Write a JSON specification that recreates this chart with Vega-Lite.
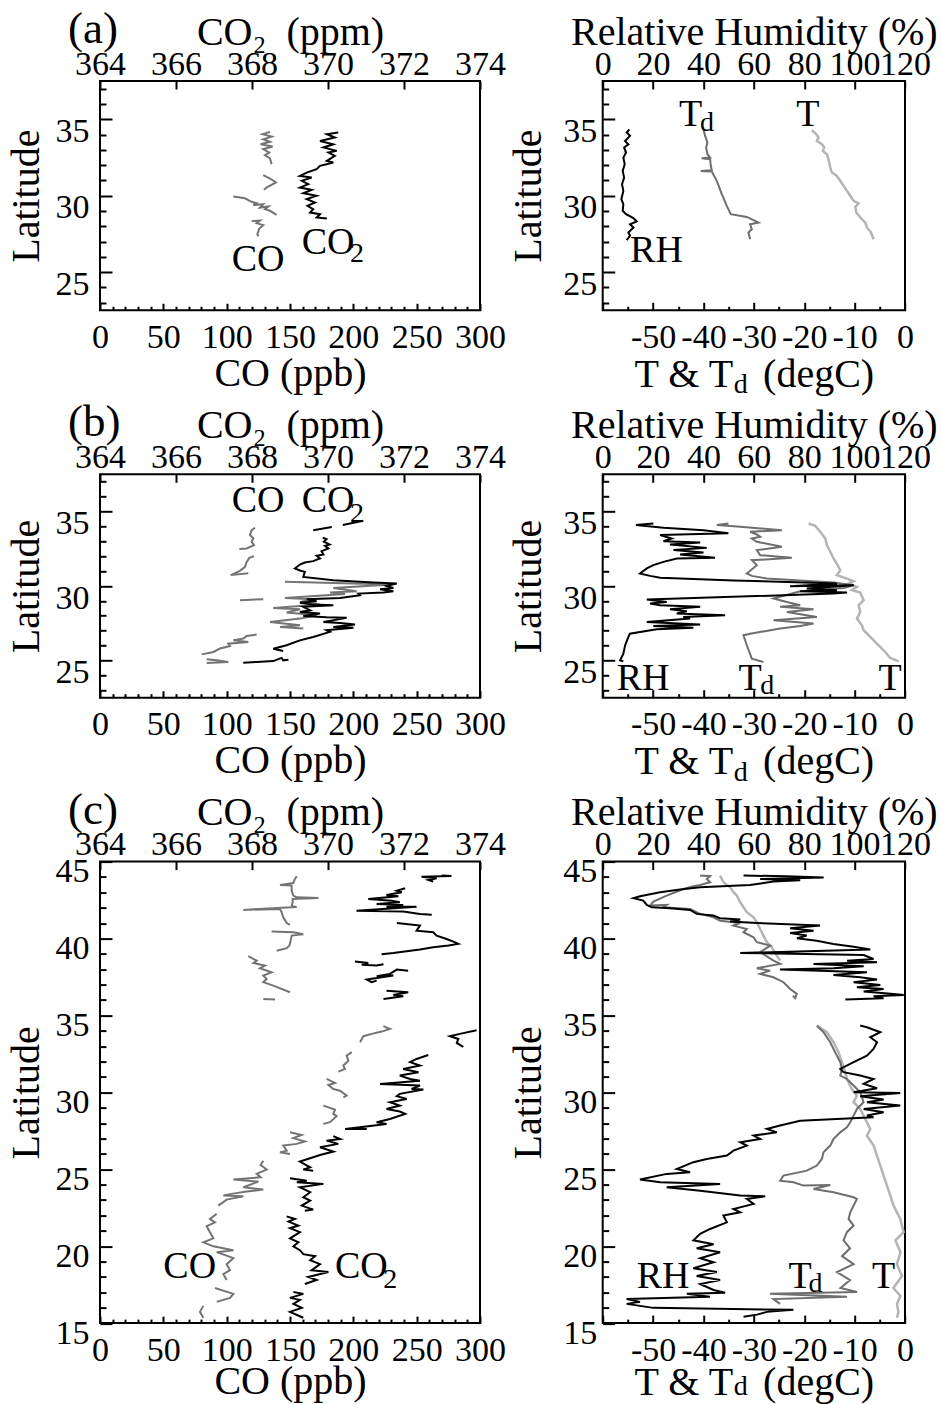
{
"$schema": "https://vega.github.io/schema/vega-lite/v6.json",
"padding": {"left": 5, "top": 6, "right": 0, "bottom": 0},
"background": "white",
"config": {
  "font": "Liberation Serif",
  "view": {"stroke": "black", "strokeWidth": 2},
  "axis": {"domain": false, "grid": false, "labelFont": "Liberation Serif", "labelFontSize": 34, "labelColor": "black", "titleFont": "Liberation Serif", "titleFontSize": 40, "titleFontWeight": "normal", "titleColor": "black", "tickColor": "black", "tickWidth": 2, "labelFlush": false, "labelOverlap": false, "labelBound": false},
  "title": {"font": "Liberation Serif", "fontSize": 45, "fontWeight": "normal", "color": "black"},
  "text": {"font": "Liberation Serif", "color": "black"}
},
"datasets": {
"a": [
{"s":"CO","g":1,"v":134.2,"lat":34.17},{"s":"CO","g":1,"v":128.4,"lat":34.02},{"s":"CO","g":1,"v":135.5,"lat":33.86},{"s":"CO","g":1,"v":128.9,"lat":33.69},{"s":"CO","g":1,"v":134.2,"lat":33.52},{"s":"CO","g":1,"v":126.8,"lat":33.36},{"s":"CO","g":1,"v":136.3,"lat":33.21},{"s":"CO","g":1,"v":128.9,"lat":33.04},{"s":"CO","g":1,"v":133.6,"lat":32.82},{"s":"CO","g":1,"v":130.2,"lat":32.64},{"s":"CO","g":1,"v":134.2,"lat":32.43},{"s":"CO","g":1,"v":135.5,"lat":32.06},
{"s":"CO","g":2,"v":128.9,"lat":31.34},{"s":"CO","g":2,"v":134.2,"lat":31.12},{"s":"CO","g":2,"v":138.9,"lat":30.86},{"s":"CO","g":2,"v":131.5,"lat":30.53},{"s":"CO","g":2,"v":129.4,"lat":30.38},
{"s":"CO","g":3,"v":105.2,"lat":29.94},{"s":"CO","g":3,"v":114.4,"lat":29.83},{"s":"CO","g":3,"v":119.7,"lat":29.6},{"s":"CO","g":3,"v":123.6,"lat":29.51},{"s":"CO","g":3,"v":121,"lat":29.38},{"s":"CO","g":3,"v":128.9,"lat":29.44},{"s":"CO","g":3,"v":126.3,"lat":29.22},{"s":"CO","g":3,"v":132.9,"lat":29.29},{"s":"CO","g":3,"v":130.2,"lat":29.12},{"s":"CO","g":3,"v":134.2,"lat":29.01},{"s":"CO","g":3,"v":139.4,"lat":28.74},
{"s":"CO","g":4,"v":119.7,"lat":28.33},{"s":"CO","g":4,"v":126.3,"lat":28.37},{"s":"CO","g":4,"v":123.6,"lat":28.2},{"s":"CO","g":4,"v":128.9,"lat":28.07},{"s":"CO","g":4,"v":125.8,"lat":27.85},{"s":"CO","g":4,"v":124.2,"lat":27.48},{"s":"CO","g":4,"v":125,"lat":27.33},
{"s":"CO2","g":5,"v":370.27,"lat":34.13},{"s":"CO2","g":5,"v":369.97,"lat":34.02},{"s":"CO2","g":5,"v":370.18,"lat":33.8},{"s":"CO2","g":5,"v":369.79,"lat":33.58},{"s":"CO2","g":5,"v":370.14,"lat":33.36},{"s":"CO2","g":5,"v":369.88,"lat":33.15},{"s":"CO2","g":5,"v":370.23,"lat":32.93},{"s":"CO2","g":5,"v":370.01,"lat":32.82},{"s":"CO2","g":5,"v":370.18,"lat":32.6},{"s":"CO2","g":5,"v":369.97,"lat":32.27},{"s":"CO2","g":5,"v":370.14,"lat":32.17},{"s":"CO2","g":5,"v":369.79,"lat":31.95},{"s":"CO2","g":5,"v":369.7,"lat":31.73},{"s":"CO2","g":5,"v":369.44,"lat":31.51},{"s":"CO2","g":5,"v":369.26,"lat":31.29},{"s":"CO2","g":5,"v":369.57,"lat":31.18},{"s":"CO2","g":5,"v":369.31,"lat":30.97},{"s":"CO2","g":5,"v":369.48,"lat":30.75},{"s":"CO2","g":5,"v":369.26,"lat":30.53},{"s":"CO2","g":5,"v":369.57,"lat":30.38},{"s":"CO2","g":5,"v":369.35,"lat":30.16},{"s":"CO2","g":5,"v":369.7,"lat":29.99},{"s":"CO2","g":5,"v":369.44,"lat":29.77},{"s":"CO2","g":5,"v":369.66,"lat":29.55},{"s":"CO2","g":5,"v":369.46,"lat":29.33},{"s":"CO2","g":5,"v":369.61,"lat":29.11},{"s":"CO2","g":5,"v":369.53,"lat":28.9},{"s":"CO2","g":5,"v":369.79,"lat":28.79},{"s":"CO2","g":5,"v":369.7,"lat":28.57},{"s":"CO2","g":5,"v":369.97,"lat":28.5}
],
"ar": [
{"s":"RH","g":1,"v":10.6,"lat":34.34},{"s":"RH","g":1,"v":9.5,"lat":34.13},{"s":"RH","g":1,"v":10.85,"lat":33.91},{"s":"RH","g":1,"v":8.86,"lat":33.58},{"s":"RH","g":1,"v":10.2,"lat":33.36},{"s":"RH","g":1,"v":8.5,"lat":33.15},{"s":"RH","g":1,"v":9.26,"lat":32.82},{"s":"RH","g":1,"v":8.2,"lat":32.49},{"s":"RH","g":1,"v":8.73,"lat":32.06},{"s":"RH","g":1,"v":7.94,"lat":31.62},{"s":"RH","g":1,"v":8.5,"lat":31.18},{"s":"RH","g":1,"v":7.67,"lat":30.75},{"s":"RH","g":1,"v":8.2,"lat":30.31},{"s":"RH","g":1,"v":7.4,"lat":29.77},{"s":"RH","g":1,"v":8.2,"lat":29.44},{"s":"RH","g":1,"v":7.94,"lat":29.01},{"s":"RH","g":1,"v":9.26,"lat":28.79},{"s":"RH","g":1,"v":12.2,"lat":28.53},{"s":"RH","g":1,"v":13.5,"lat":28.31},{"s":"RH","g":1,"v":10.85,"lat":28.13},{"s":"RH","g":1,"v":12.2,"lat":27.92},{"s":"RH","g":1,"v":10.2,"lat":27.59},{"s":"RH","g":1,"v":10.85,"lat":27.37},{"s":"RH","g":1,"v":9.5,"lat":27.09},
{"s":"Td","g":2,"v":-40.0,"lat":34.34},{"s":"Td","g":2,"v":-39.67,"lat":33.91},{"s":"Td","g":2,"v":-39.21,"lat":33.47},{"s":"Td","g":2,"v":-39.48,"lat":33.15},{"s":"Td","g":2,"v":-39.21,"lat":32.71},{"s":"Td","g":2,"v":-38.68,"lat":32.49},{"s":"Td","g":2,"v":-40.34,"lat":32.45},{"s":"Td","g":2,"v":-38.68,"lat":32.38},{"s":"Td","g":2,"v":-38.55,"lat":31.95},{"s":"Td","g":2,"v":-38.35,"lat":31.66},{"s":"Td","g":2,"v":-40.54,"lat":31.62},{"s":"Td","g":2,"v":-38.35,"lat":31.58},{"s":"Td","g":2,"v":-37.36,"lat":30.97},{"s":"Td","g":2,"v":-36.36,"lat":30.1},{"s":"Td","g":2,"v":-35.37,"lat":29.33},{"s":"Td","g":2,"v":-34.58,"lat":28.79},{"s":"Td","g":2,"v":-31.4,"lat":28.61},{"s":"Td","g":2,"v":-30.07,"lat":28.4},{"s":"Td","g":2,"v":-29.08,"lat":28.24},{"s":"Td","g":2,"v":-30.74,"lat":28.13},{"s":"Td","g":2,"v":-30.4,"lat":27.81},{"s":"Td","g":2,"v":-31.07,"lat":27.59},{"s":"Td","g":2,"v":-30.74,"lat":27.15},
{"s":"T","g":3,"v":-18.49,"lat":34.28},{"s":"T","g":3,"v":-17.62,"lat":34.02},{"s":"T","g":3,"v":-17.16,"lat":33.8},{"s":"T","g":3,"v":-17.49,"lat":33.58},{"s":"T","g":3,"v":-16.5,"lat":33.36},{"s":"T","g":3,"v":-16.03,"lat":33.15},{"s":"T","g":3,"v":-16.3,"lat":32.93},{"s":"T","g":3,"v":-15.5,"lat":32.71},{"s":"T","g":3,"v":-15.17,"lat":32.38},{"s":"T","g":3,"v":-14.83,"lat":31.84},{"s":"T","g":3,"v":-14.51,"lat":31.51},{"s":"T","g":3,"v":-13.52,"lat":31.29},{"s":"T","g":3,"v":-12.85,"lat":30.97},{"s":"T","g":3,"v":-12.19,"lat":30.64},{"s":"T","g":3,"v":-11.53,"lat":30.31},{"s":"T","g":3,"v":-10.87,"lat":29.99},{"s":"T","g":3,"v":-10.2,"lat":29.66},{"s":"T","g":3,"v":-9.21,"lat":29.49},{"s":"T","g":3,"v":-9.87,"lat":29.27},{"s":"T","g":3,"v":-9.67,"lat":28.9},{"s":"T","g":3,"v":-8.88,"lat":28.57},{"s":"T","g":3,"v":-7.89,"lat":28.24},{"s":"T","g":3,"v":-7.56,"lat":27.92},{"s":"T","g":3,"v":-6.76,"lat":27.59},{"s":"T","g":3,"v":-6.23,"lat":27.15}
],
"b": [
{"s":"CO","g":1,"v":122.4,"lat":33.91},{"s":"CO","g":1,"v":119.7,"lat":33.75},{"s":"CO","g":1,"v":118.4,"lat":33.42},{"s":"CO","g":1,"v":121.1,"lat":33.19},{"s":"CO","g":1,"v":119.7,"lat":32.97},{"s":"CO","g":1,"v":121.6,"lat":32.74},{"s":"CO","g":1,"v":115.8,"lat":32.52},{"s":"CO","g":1,"v":110,"lat":32.48},
{"s":"CO","g":2,"v":121.6,"lat":32.01},{"s":"CO","g":2,"v":117.9,"lat":31.89},{"s":"CO","g":2,"v":115.8,"lat":31.62},{"s":"CO","g":2,"v":114.5,"lat":31.29},{"s":"CO","g":2,"v":110.5,"lat":31.02},{"s":"CO","g":2,"v":103.2,"lat":30.73},{"s":"CO","g":2,"v":117.1,"lat":30.86},
{"s":"CO","g":3,"v":110.5,"lat":29.05},{"s":"CO","g":3,"v":128.9,"lat":29.11},
{"s":"CO","g":4,"v":146,"lat":30.28},{"s":"CO","g":4,"v":230.3,"lat":30.1},{"s":"CO","g":4,"v":184.2,"lat":29.87},{"s":"CO","g":4,"v":202.6,"lat":29.65},{"s":"CO","g":4,"v":181.6,"lat":29.56},{"s":"CO","g":4,"v":193.4,"lat":29.47},{"s":"CO","g":4,"v":146,"lat":29.2},{"s":"CO","g":4,"v":168.4,"lat":29.11},{"s":"CO","g":4,"v":157.9,"lat":28.93},{"s":"CO","g":4,"v":173.7,"lat":28.75},{"s":"CO","g":4,"v":136.8,"lat":28.53},{"s":"CO","g":4,"v":157.9,"lat":28.44},{"s":"CO","g":4,"v":147.4,"lat":28.22},{"s":"CO","g":4,"v":171.1,"lat":28.04},{"s":"CO","g":4,"v":157.9,"lat":27.81},{"s":"CO","g":4,"v":134.2,"lat":27.59},{"s":"CO","g":4,"v":157.9,"lat":27.36},{"s":"CO","g":4,"v":142.1,"lat":27.25},{"s":"CO","g":4,"v":160.5,"lat":27.14},
{"s":"CO","g":5,"v":123.7,"lat":26.74},{"s":"CO","g":5,"v":115.8,"lat":26.65},{"s":"CO","g":5,"v":113.2,"lat":26.47},{"s":"CO","g":5,"v":105.3,"lat":26.36},{"s":"CO","g":5,"v":117.1,"lat":26.24},{"s":"CO","g":5,"v":101.3,"lat":26.13},{"s":"CO","g":5,"v":102.6,"lat":25.97},{"s":"CO","g":5,"v":94.7,"lat":25.8},{"s":"CO","g":5,"v":89.5,"lat":25.57},{"s":"CO","g":5,"v":80.3,"lat":25.41},
{"s":"CO","g":6,"v":84.2,"lat":25.08},{"s":"CO","g":6,"v":92.1,"lat":25.01},{"s":"CO","g":6,"v":101.3,"lat":24.9},{"s":"CO","g":6,"v":84.2,"lat":24.83},
{"s":"CO2","g":7,"v":369.61,"lat":33.75},{"s":"CO2","g":7,"v":370.1,"lat":33.96},
{"s":"CO2","g":8,"v":370.39,"lat":34.09},{"s":"CO2","g":8,"v":370.93,"lat":34.38},
{"s":"CO2","g":9,"v":369.86,"lat":33.24},{"s":"CO2","g":9,"v":369.96,"lat":33.15},{"s":"CO2","g":9,"v":369.89,"lat":32.97},{"s":"CO2","g":9,"v":370.04,"lat":32.79},{"s":"CO2","g":9,"v":369.92,"lat":32.7},{"s":"CO2","g":9,"v":370.01,"lat":32.52},{"s":"CO2","g":9,"v":369.83,"lat":32.34},{"s":"CO2","g":9,"v":369.88,"lat":32.12},{"s":"CO2","g":9,"v":369.7,"lat":32.03},{"s":"CO2","g":9,"v":369.79,"lat":31.85},{"s":"CO2","g":9,"v":369.61,"lat":31.67},{"s":"CO2","g":9,"v":369.39,"lat":31.58},{"s":"CO2","g":9,"v":369.26,"lat":31.44},{"s":"CO2","g":9,"v":369.13,"lat":31.18},{"s":"CO2","g":9,"v":369.26,"lat":31.04},{"s":"CO2","g":9,"v":369.39,"lat":30.95},{"s":"CO2","g":9,"v":369.35,"lat":30.61},{"s":"CO2","g":9,"v":370.14,"lat":30.39},{"s":"CO2","g":9,"v":371.19,"lat":30.23},{"s":"CO2","g":9,"v":371.81,"lat":30.17},{"s":"CO2","g":9,"v":371.54,"lat":30.01},{"s":"CO2","g":9,"v":371.72,"lat":29.87},{"s":"CO2","g":9,"v":371.37,"lat":29.78},{"s":"CO2","g":9,"v":371.72,"lat":29.65},{"s":"CO2","g":9,"v":371.46,"lat":29.56},{"s":"CO2","g":9,"v":370.8,"lat":29.49},{"s":"CO2","g":9,"v":370.84,"lat":29.38},{"s":"CO2","g":9,"v":370.32,"lat":29.2},{"s":"CO2","g":9,"v":369.44,"lat":29.11},{"s":"CO2","g":9,"v":369.7,"lat":28.98},{"s":"CO2","g":9,"v":369.26,"lat":28.87},{"s":"CO2","g":9,"v":369.61,"lat":28.75},{"s":"CO2","g":9,"v":370.14,"lat":28.71},{"s":"CO2","g":9,"v":369.35,"lat":28.6},{"s":"CO2","g":9,"v":369.53,"lat":28.37},{"s":"CO2","g":9,"v":369.26,"lat":28.26},{"s":"CO2","g":9,"v":369.79,"lat":28.15},{"s":"CO2","g":9,"v":369.35,"lat":27.99},{"s":"CO2","g":9,"v":369.96,"lat":27.9},{"s":"CO2","g":9,"v":370.49,"lat":27.86},{"s":"CO2","g":9,"v":369.88,"lat":27.59},{"s":"CO2","g":9,"v":370.32,"lat":27.52},{"s":"CO2","g":9,"v":370.71,"lat":27.41},{"s":"CO2","g":9,"v":370.14,"lat":27.25},{"s":"CO2","g":9,"v":370.67,"lat":27.2},{"s":"CO2","g":9,"v":369.96,"lat":27.03},{"s":"CO2","g":9,"v":370.05,"lat":26.92},{"s":"CO2","g":9,"v":369.61,"lat":26.58},{"s":"CO2","g":9,"v":369.26,"lat":26.35},{"s":"CO2","g":9,"v":368.91,"lat":26.02},{"s":"CO2","g":9,"v":368.56,"lat":25.79},{"s":"CO2","g":9,"v":368.82,"lat":25.64},
{"s":"CO2","g":10,"v":367.77,"lat":24.85},{"s":"CO2","g":10,"v":368.12,"lat":24.9},{"s":"CO2","g":10,"v":368.56,"lat":24.96},{"s":"CO2","g":10,"v":368.78,"lat":25.17},{"s":"CO2","g":10,"v":368.82,"lat":25.01},{"s":"CO2","g":10,"v":368.96,"lat":25.05}
],
"br": [
{"s":"RH","g":1,"v":20.1,"lat":34.2},{"s":"RH","g":1,"v":13.2,"lat":34.09},{"s":"RH","g":1,"v":24.1,"lat":33.91},{"s":"RH","g":1,"v":40,"lat":33.75},{"s":"RH","g":1,"v":49.9,"lat":33.55},{"s":"RH","g":1,"v":22.8,"lat":33.42},{"s":"RH","g":1,"v":27.4,"lat":33.19},{"s":"RH","g":1,"v":24.1,"lat":33.01},{"s":"RH","g":1,"v":38.7,"lat":32.92},{"s":"RH","g":1,"v":26.7,"lat":32.79},{"s":"RH","g":1,"v":41.3,"lat":32.56},{"s":"RH","g":1,"v":28.1,"lat":32.41},{"s":"RH","g":1,"v":40,"lat":32.25},{"s":"RH","g":1,"v":30.7,"lat":32.12},{"s":"RH","g":1,"v":44.6,"lat":31.89},{"s":"RH","g":1,"v":29.4,"lat":31.85},{"s":"RH","g":1,"v":24.1,"lat":31.62},{"s":"RH","g":1,"v":20.1,"lat":31.4},{"s":"RH","g":1,"v":17.5,"lat":31.18},{"s":"RH","g":1,"v":14.8,"lat":30.84},{"s":"RH","g":1,"v":18.8,"lat":30.68},{"s":"RH","g":1,"v":22.8,"lat":30.55},{"s":"RH","g":1,"v":51.9,"lat":30.37},{"s":"RH","g":1,"v":92.97,"lat":30.17},{"s":"RH","g":1,"v":74.4,"lat":29.99},{"s":"RH","g":1,"v":99.6,"lat":30.05},{"s":"RH","g":1,"v":81,"lat":29.83},{"s":"RH","g":1,"v":92.97,"lat":29.72},{"s":"RH","g":1,"v":78.4,"lat":29.65},{"s":"RH","g":1,"v":97,"lat":29.56},{"s":"RH","g":1,"v":91.6,"lat":29.49},{"s":"RH","g":1,"v":17.5,"lat":29.09},{"s":"RH","g":1,"v":25.4,"lat":28.93},{"s":"RH","g":1,"v":18.8,"lat":28.82},{"s":"RH","g":1,"v":22.8,"lat":28.71},{"s":"RH","g":1,"v":38.7,"lat":28.6},{"s":"RH","g":1,"v":26.7,"lat":28.44},{"s":"RH","g":1,"v":33.4,"lat":28.31},{"s":"RH","g":1,"v":29.4,"lat":28.15},{"s":"RH","g":1,"v":48.6,"lat":28.04},{"s":"RH","g":1,"v":32,"lat":27.92},{"s":"RH","g":1,"v":34.7,"lat":27.81},{"s":"RH","g":1,"v":17.5,"lat":27.59},{"s":"RH","g":1,"v":38.7,"lat":27.41},{"s":"RH","g":1,"v":20.1,"lat":27.32},{"s":"RH","g":1,"v":36,"lat":27.19},{"s":"RH","g":1,"v":21.4,"lat":27.09},{"s":"RH","g":1,"v":10.8,"lat":26.8},{"s":"RH","g":1,"v":10.2,"lat":26.58},{"s":"RH","g":1,"v":8.9,"lat":26.02},{"s":"RH","g":1,"v":8.2,"lat":25.46},{"s":"RH","g":1,"v":6.9,"lat":25.01},{"s":"RH","g":1,"v":8.2,"lat":24.94},
{"s":"Td","g":2,"v":-35.04,"lat":34.2},{"s":"Td","g":2,"v":-37.36,"lat":34.09},{"s":"Td","g":2,"v":-32.72,"lat":33.98},{"s":"Td","g":2,"v":-24.44,"lat":33.75},{"s":"Td","g":2,"v":-30.74,"lat":33.64},{"s":"Td","g":2,"v":-29.41,"lat":33.46},{"s":"Td","g":2,"v":-28.75,"lat":33.31},{"s":"Td","g":2,"v":-30.4,"lat":33.19},{"s":"Td","g":2,"v":-29.41,"lat":32.97},{"s":"Td","g":2,"v":-24.44,"lat":32.63},{"s":"Td","g":2,"v":-29.41,"lat":32.41},{"s":"Td","g":2,"v":-28.75,"lat":32.07},{"s":"Td","g":2,"v":-22.46,"lat":31.89},{"s":"Td","g":2,"v":-30.4,"lat":31.73},{"s":"Td","g":2,"v":-29.41,"lat":31.4},{"s":"Td","g":2,"v":-31.4,"lat":30.84},{"s":"Td","g":2,"v":-30.4,"lat":30.68},{"s":"Td","g":2,"v":-27.42,"lat":30.5},{"s":"Td","g":2,"v":-14.18,"lat":30.23},{"s":"Td","g":2,"v":-10.2,"lat":30.05},{"s":"Td","g":2,"v":-12.19,"lat":29.87},{"s":"Td","g":2,"v":-20.8,"lat":29.65},{"s":"Td","g":2,"v":-26.1,"lat":29.16},{"s":"Td","g":2,"v":-23.45,"lat":28.93},{"s":"Td","g":2,"v":-20.8,"lat":28.71},{"s":"Td","g":2,"v":-24.77,"lat":28.6},{"s":"Td","g":2,"v":-18.15,"lat":28.44},{"s":"Td","g":2,"v":-23.45,"lat":28.26},{"s":"Td","g":2,"v":-17.49,"lat":27.92},{"s":"Td","g":2,"v":-26.1,"lat":27.7},{"s":"Td","g":2,"v":-18.15,"lat":27.48},{"s":"Td","g":2,"v":-20.8,"lat":27.32},{"s":"Td","g":2,"v":-24.77,"lat":27.14},{"s":"Td","g":2,"v":-30.74,"lat":26.8},{"s":"Td","g":2,"v":-32.06,"lat":26.69},{"s":"Td","g":2,"v":-31.4,"lat":26.02},{"s":"Td","g":2,"v":-30.4,"lat":25.12},{"s":"Td","g":2,"v":-28.09,"lat":24.9},
{"s":"T","g":3,"v":-19.15,"lat":34.2},{"s":"T","g":3,"v":-17.82,"lat":34.04},{"s":"T","g":3,"v":-16.83,"lat":33.64},{"s":"T","g":3,"v":-15.83,"lat":33.19},{"s":"T","g":3,"v":-15.5,"lat":32.74},{"s":"T","g":3,"v":-14.84,"lat":32.3},{"s":"T","g":3,"v":-14.18,"lat":31.85},{"s":"T","g":3,"v":-13.38,"lat":31.4},{"s":"T","g":3,"v":-12.85,"lat":31.06},{"s":"T","g":3,"v":-13.52,"lat":30.73},{"s":"T","g":3,"v":-11.53,"lat":30.5},{"s":"T","g":3,"v":-10.2,"lat":30.32},{"s":"T","g":3,"v":-11.2,"lat":30.17},{"s":"T","g":3,"v":-9.54,"lat":29.94},{"s":"T","g":3,"v":-10.54,"lat":29.72},{"s":"T","g":3,"v":-8.88,"lat":29.56},{"s":"T","g":3,"v":-8.22,"lat":29.05},{"s":"T","g":3,"v":-9.21,"lat":28.71},{"s":"T","g":3,"v":-8.88,"lat":28.26},{"s":"T","g":3,"v":-9.54,"lat":27.81},{"s":"T","g":3,"v":-8.55,"lat":27.36},{"s":"T","g":3,"v":-8.22,"lat":27.03},{"s":"T","g":3,"v":-6.89,"lat":26.58},{"s":"T","g":3,"v":-5.57,"lat":26.13},{"s":"T","g":3,"v":-3.91,"lat":25.57},{"s":"T","g":3,"v":-2.92,"lat":25.17},{"s":"T","g":3,"v":-1.26,"lat":24.94}
],
"c": [
{"s":"CO","g":1,"v":155.3,"lat":44.05},{"s":"CO","g":1,"v":153.9,"lat":43.87},{"s":"CO","g":1,"v":152.6,"lat":43.61},{"s":"CO","g":1,"v":142.1,"lat":43.48},{"s":"CO","g":1,"v":151.3,"lat":43.44},{"s":"CO","g":1,"v":151.3,"lat":43.11},{"s":"CO","g":1,"v":152.6,"lat":42.79},{"s":"CO","g":1,"v":155.3,"lat":42.68},{"s":"CO","g":1,"v":172.4,"lat":42.64},{"s":"CO","g":1,"v":152.1,"lat":42.57},{"s":"CO","g":1,"v":152.1,"lat":42.36},{"s":"CO","g":1,"v":151.3,"lat":42.1},{"s":"CO","g":1,"v":155.3,"lat":42.05},{"s":"CO","g":1,"v":113.2,"lat":41.86},{"s":"CO","g":1,"v":142.1,"lat":41.92},{"s":"CO","g":1,"v":143.4,"lat":41.71},{"s":"CO","g":1,"v":144.7,"lat":41.38},{"s":"CO","g":1,"v":147.4,"lat":41.01},{"s":"CO","g":1,"v":150,"lat":40.88},
{"s":"CO","g":2,"v":135.5,"lat":40.45},{"s":"CO","g":2,"v":152.6,"lat":40.41},{"s":"CO","g":2,"v":160.5,"lat":40.28},{"s":"CO","g":2,"v":151.3,"lat":40.19},{"s":"CO","g":2,"v":150.5,"lat":39.86},{"s":"CO","g":2,"v":149.5,"lat":39.54},{"s":"CO","g":2,"v":147.4,"lat":39.37},{"s":"CO","g":2,"v":139.5,"lat":39.21},
{"s":"CO","g":3,"v":117.1,"lat":38.85},{"s":"CO","g":3,"v":123.7,"lat":38.56},{"s":"CO","g":3,"v":121.1,"lat":38.41},{"s":"CO","g":3,"v":130.3,"lat":38.24},{"s":"CO","g":3,"v":126.3,"lat":38.07},{"s":"CO","g":3,"v":135.5,"lat":37.81},{"s":"CO","g":3,"v":128.9,"lat":37.59},{"s":"CO","g":3,"v":131.6,"lat":37.37},{"s":"CO","g":3,"v":128.9,"lat":37.16},{"s":"CO","g":3,"v":136.8,"lat":36.94},{"s":"CO","g":3,"v":150,"lat":36.51},
{"s":"CO","g":4,"v":128.9,"lat":36.07},{"s":"CO","g":4,"v":138.2,"lat":36.03},
{"s":"CO","g":5,"v":223.7,"lat":34.3},{"s":"CO","g":5,"v":228.9,"lat":34.12},{"s":"CO","g":5,"v":222.4,"lat":33.95},{"s":"CO","g":5,"v":214.5,"lat":33.8},{"s":"CO","g":5,"v":207.9,"lat":33.65},{"s":"CO","g":5,"v":205.3,"lat":33.26},
{"s":"CO","g":6,"v":198.7,"lat":32.61},{"s":"CO","g":6,"v":194.7,"lat":32.39},{"s":"CO","g":6,"v":196.1,"lat":32.06},{"s":"CO","g":6,"v":192.1,"lat":31.74},{"s":"CO","g":6,"v":193.4,"lat":31.52},{"s":"CO","g":6,"v":188.2,"lat":31.35},
{"s":"CO","g":7,"v":178.9,"lat":30.87},{"s":"CO","g":7,"v":185.5,"lat":30.61},{"s":"CO","g":7,"v":180.3,"lat":30.48},{"s":"CO","g":7,"v":184.2,"lat":30.22},{"s":"CO","g":7,"v":189.5,"lat":30.11},{"s":"CO","g":7,"v":194.7,"lat":29.79},{"s":"CO","g":7,"v":192.1,"lat":29.68},
{"s":"CO","g":8,"v":176.3,"lat":29.14},{"s":"CO","g":8,"v":185.5,"lat":28.88},{"s":"CO","g":8,"v":184.2,"lat":28.6},{"s":"CO","g":8,"v":186.8,"lat":28.45},{"s":"CO","g":8,"v":181.6,"lat":28.06},{"s":"CO","g":8,"v":176.3,"lat":27.95},
{"s":"CO","g":9,"v":150,"lat":27.4},{"s":"CO","g":9,"v":159.2,"lat":27.23},{"s":"CO","g":9,"v":152.6,"lat":27.02},{"s":"CO","g":9,"v":161.8,"lat":26.8},{"s":"CO","g":9,"v":155.3,"lat":26.65},{"s":"CO","g":9,"v":144.7,"lat":26.54},{"s":"CO","g":9,"v":147.4,"lat":26.21},{"s":"CO","g":9,"v":142.1,"lat":26.1},{"s":"CO","g":9,"v":150,"lat":25.99},
{"s":"CO","g":10,"v":128.9,"lat":25.56},{"s":"CO","g":10,"v":126.8,"lat":25.28},{"s":"CO","g":10,"v":131.6,"lat":24.98},{"s":"CO","g":10,"v":123.7,"lat":24.7},{"s":"CO","g":10,"v":126.8,"lat":24.48},{"s":"CO","g":10,"v":105.3,"lat":24.33},{"s":"CO","g":10,"v":125,"lat":24.2},{"s":"CO","g":10,"v":113.2,"lat":23.83},{"s":"CO","g":10,"v":128.9,"lat":23.68},{"s":"CO","g":10,"v":115.8,"lat":23.55},{"s":"CO","g":10,"v":103.9,"lat":23.4},{"s":"CO","g":10,"v":97.4,"lat":23.29},{"s":"CO","g":10,"v":113.2,"lat":23.24},{"s":"CO","g":10,"v":100,"lat":23.03},{"s":"CO","g":10,"v":93.4,"lat":22.64},
{"s":"CO","g":11,"v":92.1,"lat":22.1},{"s":"CO","g":11,"v":86.8,"lat":21.77},{"s":"CO","g":11,"v":90.8,"lat":21.55},{"s":"CO","g":11,"v":84.2,"lat":21.3},{"s":"CO","g":11,"v":86.8,"lat":20.9},{"s":"CO","g":11,"v":89.5,"lat":20.51},{"s":"CO","g":11,"v":81.6,"lat":20.25},{"s":"CO","g":11,"v":89.5,"lat":19.99},{"s":"CO","g":11,"v":105.3,"lat":19.74},{"s":"CO","g":11,"v":92.1,"lat":19.61},{"s":"CO","g":11,"v":105.3,"lat":19.22},{"s":"CO","g":11,"v":100,"lat":18.83},{"s":"CO","g":11,"v":102.6,"lat":18.44},{"s":"CO","g":11,"v":97.4,"lat":18.19},{"s":"CO","g":11,"v":100,"lat":17.8},
{"s":"CO","g":12,"v":90.8,"lat":17.28},{"s":"CO","g":12,"v":105.3,"lat":16.9},{"s":"CO","g":12,"v":102.6,"lat":16.64},{"s":"CO","g":12,"v":92.1,"lat":16.38},
{"s":"CO","g":13,"v":81.6,"lat":16.12},{"s":"CO","g":13,"v":78.9,"lat":15.73},{"s":"CO","g":13,"v":81.6,"lat":15.35},
{"s":"CO2","g":20,"v":372.99,"lat":44.09},{"s":"CO2","g":20,"v":373.25,"lat":44.07},{"s":"CO2","g":20,"v":372.46,"lat":44.02},{"s":"CO2","g":20,"v":372.86,"lat":43.92},{"s":"CO2","g":20,"v":372.64,"lat":43.81},{"s":"CO2","g":20,"v":372.77,"lat":43.7},
{"s":"CO2","g":21,"v":372.03,"lat":43.27},{"s":"CO2","g":21,"v":371.81,"lat":43.11},{"s":"CO2","g":21,"v":371.94,"lat":43.01},{"s":"CO2","g":21,"v":371.54,"lat":42.83},{"s":"CO2","g":21,"v":371.85,"lat":42.75},{"s":"CO2","g":21,"v":371.06,"lat":42.57},{"s":"CO2","g":21,"v":371.68,"lat":42.46},{"s":"CO2","g":21,"v":371.89,"lat":42.36},{"s":"CO2","g":21,"v":371.28,"lat":42.25},{"s":"CO2","g":21,"v":371.98,"lat":42.18},{"s":"CO2","g":21,"v":371.54,"lat":42.07},{"s":"CO2","g":21,"v":372.33,"lat":42.07},{"s":"CO2","g":21,"v":370.75,"lat":41.81},{"s":"CO2","g":21,"v":371.98,"lat":41.75},{"s":"CO2","g":21,"v":372.42,"lat":41.6},{"s":"CO2","g":21,"v":372.73,"lat":41.55},
{"s":"CO2","g":22,"v":371.81,"lat":41.01},{"s":"CO2","g":22,"v":372.42,"lat":40.84},{"s":"CO2","g":22,"v":372.33,"lat":40.51},{"s":"CO2","g":22,"v":372.77,"lat":40.41},{"s":"CO2","g":22,"v":372.86,"lat":40.19},{"s":"CO2","g":22,"v":373.12,"lat":39.97},{"s":"CO2","g":22,"v":373.3,"lat":39.8},{"s":"CO2","g":22,"v":373.43,"lat":39.65},{"s":"CO2","g":22,"v":373.17,"lat":39.54},{"s":"CO2","g":22,"v":372.77,"lat":39.43},{"s":"CO2","g":22,"v":372.42,"lat":39.28},{"s":"CO2","g":22,"v":371.72,"lat":39.06},{"s":"CO2","g":22,"v":371.41,"lat":38.98},
{"s":"CO2","g":23,"v":370.71,"lat":38.5},{"s":"CO2","g":23,"v":371.06,"lat":38.41},{"s":"CO2","g":23,"v":370.89,"lat":38.3},{"s":"CO2","g":23,"v":371.28,"lat":38.24},{"s":"CO2","g":23,"v":371.46,"lat":38.33},
{"s":"CO2","g":24,"v":372.11,"lat":37.91},{"s":"CO2","g":24,"v":371.81,"lat":37.98},{"s":"CO2","g":24,"v":371.63,"lat":37.7},{"s":"CO2","g":24,"v":371.28,"lat":37.55},{"s":"CO2","g":24,"v":371.72,"lat":37.59},{"s":"CO2","g":24,"v":371.02,"lat":37.33},{"s":"CO2","g":24,"v":371.15,"lat":37.16},{"s":"CO2","g":24,"v":371.28,"lat":37.26},
{"s":"CO2","g":25,"v":371.54,"lat":36.61},{"s":"CO2","g":25,"v":372.11,"lat":36.51},{"s":"CO2","g":25,"v":371.72,"lat":36.33},{"s":"CO2","g":25,"v":371.98,"lat":36.25},{"s":"CO2","g":25,"v":371.46,"lat":36.07},
{"s":"CO2","g":26,"v":373.91,"lat":34.04},{"s":"CO2","g":26,"v":373.47,"lat":33.8},{"s":"CO2","g":26,"v":373.21,"lat":33.65},{"s":"CO2","g":26,"v":373.43,"lat":33.47},{"s":"CO2","g":26,"v":373.39,"lat":33.21},{"s":"CO2","g":26,"v":373.56,"lat":32.96},
{"s":"CO2","g":27,"v":372.64,"lat":32.43},{"s":"CO2","g":27,"v":372.33,"lat":32.17},{"s":"CO2","g":27,"v":372.16,"lat":31.96},{"s":"CO2","g":27,"v":372.42,"lat":31.74},{"s":"CO2","g":27,"v":371.98,"lat":31.52},{"s":"CO2","g":27,"v":372.38,"lat":31.31},{"s":"CO2","g":27,"v":371.89,"lat":31.09},{"s":"CO2","g":27,"v":372.16,"lat":30.87},{"s":"CO2","g":27,"v":372.42,"lat":30.76},{"s":"CO2","g":27,"v":371.37,"lat":30.55},{"s":"CO2","g":27,"v":372.42,"lat":30.44},{"s":"CO2","g":27,"v":372.2,"lat":30.22},{"s":"CO2","g":27,"v":372.51,"lat":30.18},{"s":"CO2","g":27,"v":371.89,"lat":29.9},{"s":"CO2","g":27,"v":371.81,"lat":29.75},{"s":"CO2","g":27,"v":372.07,"lat":29.57},{"s":"CO2","g":27,"v":371.63,"lat":29.36},{"s":"CO2","g":27,"v":371.89,"lat":29.14},{"s":"CO2","g":27,"v":371.54,"lat":28.92},{"s":"CO2","g":27,"v":371.89,"lat":28.75},{"s":"CO2","g":27,"v":372.03,"lat":28.6},{"s":"CO2","g":27,"v":371.63,"lat":28.27},{"s":"CO2","g":27,"v":371.28,"lat":28.06},{"s":"CO2","g":27,"v":371.54,"lat":27.95},{"s":"CO2","g":27,"v":370.84,"lat":27.73},{"s":"CO2","g":27,"v":370.45,"lat":27.62},{"s":"CO2","g":27,"v":371.02,"lat":27.62},
{"s":"CO2","g":28,"v":370.14,"lat":27.15},{"s":"CO2","g":28,"v":370.32,"lat":26.97},{"s":"CO2","g":28,"v":369.96,"lat":26.86},{"s":"CO2","g":28,"v":370.27,"lat":26.65},{"s":"CO2","g":28,"v":369.79,"lat":26.43},{"s":"CO2","g":28,"v":370.14,"lat":26.15},{"s":"CO2","g":28,"v":369.79,"lat":25.93},{"s":"CO2","g":28,"v":369.61,"lat":25.78},{"s":"CO2","g":28,"v":369.26,"lat":25.5},{"s":"CO2","g":28,"v":369.53,"lat":25.13},{"s":"CO2","g":28,"v":369.35,"lat":24.98},{"s":"CO2","g":28,"v":369.61,"lat":24.91},
{"s":"CO2","g":29,"v":369,"lat":24.42},{"s":"CO2","g":29,"v":369.44,"lat":24.26},{"s":"CO2","g":29,"v":369.18,"lat":24.16},{"s":"CO2","g":29,"v":369.88,"lat":24.05},{"s":"CO2","g":29,"v":369.26,"lat":23.83},{"s":"CO2","g":29,"v":369.53,"lat":23.51},{"s":"CO2","g":29,"v":369.35,"lat":23.18},{"s":"CO2","g":29,"v":369.53,"lat":22.96},{"s":"CO2","g":29,"v":369.31,"lat":22.64},{"s":"CO2","g":29,"v":369.61,"lat":22.38},{"s":"CO2","g":29,"v":369.39,"lat":22.31},
{"s":"CO2","g":30,"v":368.91,"lat":21.94},{"s":"CO2","g":30,"v":369.13,"lat":21.77},{"s":"CO2","g":30,"v":368.96,"lat":21.6},{"s":"CO2","g":30,"v":369.22,"lat":21.34},{"s":"CO2","g":30,"v":369,"lat":21.17},{"s":"CO2","g":30,"v":369.26,"lat":20.91},{"s":"CO2","g":30,"v":369,"lat":20.51},{"s":"CO2","g":30,"v":369.22,"lat":20.25},{"s":"CO2","g":30,"v":369.09,"lat":19.99},{"s":"CO2","g":30,"v":369.26,"lat":19.74},{"s":"CO2","g":30,"v":369.35,"lat":19.48},{"s":"CO2","g":30,"v":369.66,"lat":19.35},{"s":"CO2","g":30,"v":369.53,"lat":19.09},{"s":"CO2","g":30,"v":369.79,"lat":18.83},{"s":"CO2","g":30,"v":369.57,"lat":18.44},{"s":"CO2","g":30,"v":370.01,"lat":18.32},{"s":"CO2","g":30,"v":369.48,"lat":18.0},{"s":"CO2","g":30,"v":369.7,"lat":17.8},{"s":"CO2","g":30,"v":369.39,"lat":17.54},
{"s":"CO2","g":31,"v":369.09,"lat":17.02},{"s":"CO2","g":31,"v":369.35,"lat":16.9},{"s":"CO2","g":31,"v":369.0,"lat":16.64},{"s":"CO2","g":31,"v":369.26,"lat":16.51},{"s":"CO2","g":31,"v":369.09,"lat":16.25},{"s":"CO2","g":31,"v":369.31,"lat":15.99},{"s":"CO2","g":31,"v":369.0,"lat":15.73},{"s":"CO2","g":31,"v":369.35,"lat":15.35}
],
"cr": [
{"s":"RH","g":1,"v":55.9,"lat":44.09},{"s":"RH","g":1,"v":73.1,"lat":44.05},{"s":"RH","g":1,"v":87.7,"lat":43.96},{"s":"RH","g":1,"v":62.5,"lat":43.87},{"s":"RH","g":1,"v":78.4,"lat":43.79},{"s":"RH","g":1,"v":67.8,"lat":43.7},{"s":"RH","g":1,"v":58.5,"lat":43.48},{"s":"RH","g":1,"v":38.7,"lat":43.33},{"s":"RH","g":1,"v":30.7,"lat":43.18},{"s":"RH","g":1,"v":22.8,"lat":43.01},{"s":"RH","g":1,"v":14.8,"lat":42.75},{"s":"RH","g":1,"v":12.2,"lat":42.62},{"s":"RH","g":1,"v":16.1,"lat":42.47},{"s":"RH","g":1,"v":17.5,"lat":42.18},{"s":"RH","g":1,"v":19.5,"lat":42.03},{"s":"RH","g":1,"v":26.7,"lat":41.97},{"s":"RH","g":1,"v":34.7,"lat":41.86},{"s":"RH","g":1,"v":37.3,"lat":41.6},{"s":"RH","g":1,"v":43.9,"lat":41.49},{"s":"RH","g":1,"v":46.6,"lat":41.32},{"s":"RH","g":1,"v":54.6,"lat":41.23},{"s":"RH","g":1,"v":50.6,"lat":41.1},{"s":"RH","g":1,"v":61.2,"lat":41.01},{"s":"RH","g":1,"v":86.3,"lat":40.84},{"s":"RH","g":1,"v":74.4,"lat":40.67},{"s":"RH","g":1,"v":83.7,"lat":40.51},{"s":"RH","g":1,"v":74.4,"lat":40.36},{"s":"RH","g":1,"v":81,"lat":40.19},{"s":"RH","g":1,"v":77.1,"lat":40.02},{"s":"RH","g":1,"v":85,"lat":39.86},{"s":"RH","g":1,"v":91.6,"lat":39.65},{"s":"RH","g":1,"v":99.6,"lat":39.47},{"s":"RH","g":1,"v":106.2,"lat":39.28},{"s":"RH","g":1,"v":54.6,"lat":39.06},{"s":"RH","g":1,"v":103.6,"lat":38.93},{"s":"RH","g":1,"v":107.5,"lat":38.67},{"s":"RH","g":1,"v":97,"lat":38.56},{"s":"RH","g":1,"v":108.9,"lat":38.46},{"s":"RH","g":1,"v":83.7,"lat":38.35},{"s":"RH","g":1,"v":103.6,"lat":38.2},{"s":"RH","g":1,"v":91.6,"lat":38.07},{"s":"RH","g":1,"v":70.4,"lat":37.98},{"s":"RH","g":1,"v":104.9,"lat":37.81},{"s":"RH","g":1,"v":91.6,"lat":37.63},{"s":"RH","g":1,"v":102.2,"lat":37.48},{"s":"RH","g":1,"v":108.9,"lat":37.33},{"s":"RH","g":1,"v":99.6,"lat":37.16},{"s":"RH","g":1,"v":110.2,"lat":36.98},{"s":"RH","g":1,"v":100.9,"lat":36.83},{"s":"RH","g":1,"v":111.5,"lat":36.72},{"s":"RH","g":1,"v":103.6,"lat":36.55},{"s":"RH","g":1,"v":115.5,"lat":36.4},{"s":"RH","g":1,"v":119.5,"lat":36.33},{"s":"RH","g":1,"v":107.5,"lat":36.25},{"s":"RH","g":1,"v":111.5,"lat":36.12},{"s":"RH","g":1,"v":96.3,"lat":36.03},
{"s":"RH","g":2,"v":102.2,"lat":34.34},{"s":"RH","g":2,"v":104.9,"lat":34.23},{"s":"RH","g":2,"v":110.2,"lat":33.91},{"s":"RH","g":2,"v":106.2,"lat":33.58},{"s":"RH","g":2,"v":108.9,"lat":33.26},{"s":"RH","g":2,"v":107.5,"lat":32.82},{"s":"RH","g":2,"v":104.9,"lat":32.39},{"s":"RH","g":2,"v":99.6,"lat":31.96},{"s":"RH","g":2,"v":94.3,"lat":31.52},{"s":"RH","g":2,"v":95.6,"lat":31.31},{"s":"RH","g":2,"v":102.2,"lat":31.09},{"s":"RH","g":2,"v":107.5,"lat":30.87},{"s":"RH","g":2,"v":103.6,"lat":30.55},{"s":"RH","g":2,"v":108.9,"lat":30.27},{"s":"RH","g":2,"v":99.6,"lat":30.01},{"s":"RH","g":2,"v":118.1,"lat":29.96},{"s":"RH","g":2,"v":102.2,"lat":29.75},{"s":"RH","g":2,"v":111.5,"lat":29.53},{"s":"RH","g":2,"v":104.9,"lat":29.36},{"s":"RH","g":2,"v":118.1,"lat":29.14},{"s":"RH","g":2,"v":103.6,"lat":28.92},{"s":"RH","g":2,"v":111.5,"lat":28.71},{"s":"RH","g":2,"v":104.9,"lat":28.49},{"s":"RH","g":2,"v":107.5,"lat":28.38},{"s":"RH","g":2,"v":78.4,"lat":28.16},{"s":"RH","g":2,"v":70.4,"lat":27.84},{"s":"RH","g":2,"v":65.2,"lat":27.62},{"s":"RH","g":2,"v":69.1,"lat":27.4},{"s":"RH","g":2,"v":59.9,"lat":27.19},{"s":"RH","g":2,"v":62.5,"lat":26.97},{"s":"RH","g":2,"v":54.6,"lat":26.76},{"s":"RH","g":2,"v":57.2,"lat":26.54},{"s":"RH","g":2,"v":51.9,"lat":26.21},{"s":"RH","g":2,"v":49.3,"lat":25.89},{"s":"RH","g":2,"v":41.3,"lat":25.67},{"s":"RH","g":2,"v":36,"lat":25.46},{"s":"RH","g":2,"v":29.4,"lat":25.02},{"s":"RH","g":2,"v":34.7,"lat":24.8},{"s":"RH","g":2,"v":25.4,"lat":24.7},{"s":"RH","g":2,"v":14.8,"lat":24.33},{"s":"RH","g":2,"v":22.8,"lat":24.16},{"s":"RH","g":2,"v":46.6,"lat":24.05},{"s":"RH","g":2,"v":25.4,"lat":23.83},{"s":"RH","g":2,"v":38.7,"lat":23.61},{"s":"RH","g":2,"v":54.6,"lat":23.29},{"s":"RH","g":2,"v":64.5,"lat":23.24},{"s":"RH","g":2,"v":57.2,"lat":23.07},{"s":"RH","g":2,"v":59.9,"lat":22.75},{"s":"RH","g":2,"v":51.9,"lat":22.42},{"s":"RH","g":2,"v":54.6,"lat":22.2},{"s":"RH","g":2,"v":47.9,"lat":21.99},{"s":"RH","g":2,"v":49.3,"lat":21.55},{"s":"RH","g":2,"v":42.6,"lat":21.12},{"s":"RH","g":2,"v":38.7,"lat":20.8},{"s":"RH","g":2,"v":36,"lat":20.38},{"s":"RH","g":2,"v":44,"lat":20.12},{"s":"RH","g":2,"v":37.3,"lat":19.86},{"s":"RH","g":2,"v":46.6,"lat":19.61},{"s":"RH","g":2,"v":38.7,"lat":19.22},{"s":"RH","g":2,"v":44,"lat":18.96},{"s":"RH","g":2,"v":36,"lat":18.57},{"s":"RH","g":2,"v":45.3,"lat":18.32},{"s":"RH","g":2,"v":37.3,"lat":18.06},{"s":"RH","g":2,"v":46.6,"lat":17.8},{"s":"RH","g":2,"v":38.7,"lat":17.54},{"s":"RH","g":2,"v":44,"lat":17.15},{"s":"RH","g":2,"v":48.6,"lat":16.97},{"s":"RH","g":2,"v":33.4,"lat":16.9},{"s":"RH","g":2,"v":42.6,"lat":16.72},{"s":"RH","g":2,"v":9.5,"lat":16.56},{"s":"RH","g":2,"v":14.8,"lat":16.38},{"s":"RH","g":2,"v":9.5,"lat":16.25},{"s":"RH","g":2,"v":20.1,"lat":15.99},{"s":"RH","g":2,"v":75.7,"lat":15.86},{"s":"RH","g":2,"v":65.2,"lat":15.73},{"s":"RH","g":2,"v":61.2,"lat":15.55},{"s":"RH","g":2,"v":55.9,"lat":15.42},
{"s":"Td","g":3,"v":-40.67,"lat":44.09},{"s":"Td","g":3,"v":-38.68,"lat":44.05},{"s":"Td","g":3,"v":-39.34,"lat":43.87},{"s":"Td","g":3,"v":-38.68,"lat":43.66},{"s":"Td","g":3,"v":-40.67,"lat":43.48},{"s":"Td","g":3,"v":-41.99,"lat":43.4},{"s":"Td","g":3,"v":-43.98,"lat":43.22},{"s":"Td","g":3,"v":-47.29,"lat":42.79},{"s":"Td","g":3,"v":-49.94,"lat":42.4},{"s":"Td","g":3,"v":-50.6,"lat":42.14},{"s":"Td","g":3,"v":-47.29,"lat":42.18},{"s":"Td","g":3,"v":-47.95,"lat":42.03},{"s":"Td","g":3,"v":-42.66,"lat":41.92},{"s":"Td","g":3,"v":-40.67,"lat":41.6},{"s":"Td","g":3,"v":-38.02,"lat":41.38},{"s":"Td","g":3,"v":-36.7,"lat":41.16},{"s":"Td","g":3,"v":-32.72,"lat":41.01},{"s":"Td","g":3,"v":-34.05,"lat":40.84},{"s":"Td","g":3,"v":-31.4,"lat":40.62},{"s":"Td","g":3,"v":-32.06,"lat":40.41},{"s":"Td","g":3,"v":-30.07,"lat":40.08},{"s":"Td","g":3,"v":-29.41,"lat":39.76},{"s":"Td","g":3,"v":-26.76,"lat":39.54},{"s":"Td","g":3,"v":-28.75,"lat":39.11},{"s":"Td","g":3,"v":-26.1,"lat":38.56},{"s":"Td","g":3,"v":-24.77,"lat":38.35},{"s":"Td","g":3,"v":-29.41,"lat":38.07},{"s":"Td","g":3,"v":-26.76,"lat":37.91},{"s":"Td","g":3,"v":-28.75,"lat":37.7},{"s":"Td","g":3,"v":-26.1,"lat":37.48},{"s":"Td","g":3,"v":-24.11,"lat":37.16},{"s":"Td","g":3,"v":-22.79,"lat":36.72},{"s":"Td","g":3,"v":-21.46,"lat":36.4},{"s":"Td","g":3,"v":-21.8,"lat":36.12},{"s":"Td","g":3,"v":-22.26,"lat":36.29},
{"s":"Td","g":4,"v":-17.49,"lat":34.34},{"s":"Td","g":4,"v":-16.17,"lat":33.91},{"s":"Td","g":4,"v":-14.84,"lat":33.26},{"s":"Td","g":4,"v":-14.18,"lat":32.82},{"s":"Td","g":4,"v":-13.52,"lat":32.39},{"s":"Td","g":4,"v":-12.85,"lat":31.96},{"s":"Td","g":4,"v":-12.52,"lat":31.52},{"s":"Td","g":4,"v":-12.85,"lat":31.09},{"s":"Td","g":4,"v":-11.53,"lat":30.87},{"s":"Td","g":4,"v":-10.2,"lat":30.44},{"s":"Td","g":4,"v":-8.88,"lat":30.01},{"s":"Td","g":4,"v":-8.22,"lat":29.36},{"s":"Td","g":4,"v":-9.54,"lat":28.92},{"s":"Td","g":4,"v":-10.2,"lat":28.49},{"s":"Td","g":4,"v":-10.87,"lat":28.06},{"s":"Td","g":4,"v":-11.53,"lat":27.73},{"s":"Td","g":4,"v":-12.85,"lat":27.4},{"s":"Td","g":4,"v":-14.18,"lat":26.97},{"s":"Td","g":4,"v":-14.84,"lat":26.54},{"s":"Td","g":4,"v":-16.17,"lat":26.11},{"s":"Td","g":4,"v":-16.5,"lat":25.67},{"s":"Td","g":4,"v":-17.49,"lat":25.24},{"s":"Td","g":4,"v":-19.48,"lat":24.91},{"s":"Td","g":4,"v":-24.11,"lat":24.59},{"s":"Td","g":4,"v":-24.77,"lat":24.26},{"s":"Td","g":4,"v":-22.12,"lat":24.16},{"s":"Td","g":4,"v":-20.14,"lat":23.94},{"s":"Td","g":4,"v":-14.84,"lat":23.98},{"s":"Td","g":4,"v":-18.15,"lat":23.72},{"s":"Td","g":4,"v":-14.18,"lat":23.51},{"s":"Td","g":4,"v":-10.2,"lat":23.18},{"s":"Td","g":4,"v":-9.54,"lat":23.07},{"s":"Td","g":4,"v":-10.2,"lat":22.64},{"s":"Td","g":4,"v":-10.87,"lat":22.2},{"s":"Td","g":4,"v":-11.2,"lat":21.77},{"s":"Td","g":4,"v":-10.2,"lat":21.34},{"s":"Td","g":4,"v":-11.53,"lat":20.91},{"s":"Td","g":4,"v":-12.2,"lat":20.38},{"s":"Td","g":4,"v":-10.9,"lat":19.86},{"s":"Td","g":4,"v":-12.5,"lat":19.35},{"s":"Td","g":4,"v":-10.2,"lat":18.83},{"s":"Td","g":4,"v":-13.5,"lat":18.32},{"s":"Td","g":4,"v":-10.9,"lat":17.8},{"s":"Td","g":4,"v":-12.8,"lat":17.28},{"s":"Td","g":4,"v":-9.5,"lat":17.02},{"s":"Td","g":4,"v":-26.8,"lat":16.9},{"s":"Td","g":4,"v":-11.5,"lat":16.72},{"s":"Td","g":4,"v":-26.1,"lat":16.56},{"s":"Td","g":4,"v":-24.8,"lat":16.25},
{"s":"T","g":5,"v":-36.7,"lat":44.09},{"s":"T","g":5,"v":-36.36,"lat":43.87},{"s":"T","g":5,"v":-36.03,"lat":43.66},{"s":"T","g":5,"v":-34.71,"lat":43.33},{"s":"T","g":5,"v":-34.05,"lat":43.01},{"s":"T","g":5,"v":-33.38,"lat":42.79},{"s":"T","g":5,"v":-32.72,"lat":42.36},{"s":"T","g":5,"v":-32.06,"lat":42.03},{"s":"T","g":5,"v":-31.4,"lat":41.71},{"s":"T","g":5,"v":-30.07,"lat":41.38},{"s":"T","g":5,"v":-29.41,"lat":41.06},{"s":"T","g":5,"v":-28.75,"lat":40.62},{"s":"T","g":5,"v":-28.09,"lat":40.19},{"s":"T","g":5,"v":-27.42,"lat":39.76},{"s":"T","g":5,"v":-26.43,"lat":39.43},{"s":"T","g":5,"v":-25.44,"lat":38.89},{"s":"T","g":5,"v":-24.77,"lat":38.56},
{"s":"T","g":6,"v":-17.49,"lat":34.34},{"s":"T","g":6,"v":-15.5,"lat":33.91},{"s":"T","g":6,"v":-14.18,"lat":33.26},{"s":"T","g":6,"v":-13.19,"lat":32.61},{"s":"T","g":6,"v":-12.52,"lat":31.96},{"s":"T","g":6,"v":-11.86,"lat":31.31},{"s":"T","g":6,"v":-11.53,"lat":30.87},{"s":"T","g":6,"v":-10.54,"lat":30.22},{"s":"T","g":6,"v":-9.54,"lat":29.79},{"s":"T","g":6,"v":-10.2,"lat":29.36},{"s":"T","g":6,"v":-8.88,"lat":28.92},{"s":"T","g":6,"v":-8.22,"lat":28.49},{"s":"T","g":6,"v":-7.56,"lat":28.06},{"s":"T","g":6,"v":-6.89,"lat":27.62},{"s":"T","g":6,"v":-7.56,"lat":27.19},{"s":"T","g":6,"v":-6.23,"lat":26.54},{"s":"T","g":6,"v":-5.57,"lat":25.89},{"s":"T","g":6,"v":-4.91,"lat":25.24},{"s":"T","g":6,"v":-4.25,"lat":24.59},{"s":"T","g":6,"v":-3.58,"lat":23.94},{"s":"T","g":6,"v":-2.92,"lat":23.29},{"s":"T","g":6,"v":-2.26,"lat":22.64},{"s":"T","g":6,"v":-1.6,"lat":22.2},{"s":"T","g":6,"v":-0.93,"lat":21.77},{"s":"T","g":6,"v":-0.6,"lat":21.34},{"s":"T","g":6,"v":-0.27,"lat":20.91},{"s":"T","g":6,"v":-1.9,"lat":20.38},{"s":"T","g":6,"v":-0.9,"lat":19.61},{"s":"T","g":6,"v":-1.6,"lat":18.83},{"s":"T","g":6,"v":-0.6,"lat":18.06},{"s":"T","g":6,"v":-2.3,"lat":17.28},{"s":"T","g":6,"v":-0.9,"lat":16.77},{"s":"T","g":6,"v":-1.6,"lat":16.25},{"s":"T","g":6,"v":-1.3,"lat":15.73},{"s":"T","g":6,"v":-1.6,"lat":15.35}
],
"aLab": [{"t":"CO","x":104,"lat":25.04,"p":"main"},{"t":"CO","x":159.2,"lat":26.17,"p":"main"},{"t":"2","x":197.4,"lat":25.63,"p":"sub"}],
"arLab": [{"t":"RH","x":-54.57,"lat":25.65,"p":"main"},{"t":"T","x":-44.84,"lat":34.56,"p":"main"},{"t":"d","x":-40.67,"lat":34.23,"p":"sub"},{"t":"T","x":-21.59,"lat":34.56,"p":"main"},{"t":"d","x":-34.0,"lat":17.07,"p":"sub"}],
"bLab": [{"t":"CO","x":104,"lat":34.99,"p":"main"},{"t":"CO","x":159.2,"lat":34.99,"p":"main"},{"t":"2","x":197.4,"lat":34.32,"p":"sub"}],
"brLab": [{"t":"RH","x":-57.22,"lat":23.01,"p":"main"},{"t":"T","x":-33.06,"lat":23.01,"p":"main"},{"t":"d","x":-28.74,"lat":22.78,"p":"sub"},{"t":"T","x":-5.24,"lat":23.01,"p":"main"},{"t":"d","x":-34.0,"lat":16.92,"p":"sub"}],
"cLab": [{"t":"CO","x":50,"lat":17.93,"p":"main"},{"t":"CO","x":185.5,"lat":17.93,"p":"main"},{"t":"2","x":223.7,"lat":17.28,"p":"sub"}],
"crLab": [{"t":"RH","x":-53.24,"lat":17.28,"p":"main"},{"t":"T","x":-23.12,"lat":17.28,"p":"main"},{"t":"d","x":-19.15,"lat":17.02,"p":"sub"},{"t":"T","x":-6.55,"lat":17.28,"p":"main"},{"t":"d","x":-34.0,"lat":10.33,"p":"sub"}]
},
"hconcat": [
{"vconcat": [
 {"width": 380, "height": 229.3,
  "title": {"text": "(a)", "anchor": "start", "frame": "group", "dx": -32, "dy": 40, "offset": 0},
  "layer": [
   {"data": {"name": "a"}, "transform": [{"filter": "datum.s === 'CO'"}], "mark": {"type": "line", "color": "#747474", "strokeWidth": 2},
    "encoding": {"x": {"field": "v", "type": "quantitative", "title": "CO (ppb)", "scale": {"domain": [0, 300], "nice": false, "zero": false}, "axis": {"orient": "bottom", "values": [0,10,20,30,40,50,60,70,80,90,100,110,120,130,140,150,160,170,180,190,200,210,220,230,240,250,260,270,280,290,300], "labelExpr": "datum.value % 50 === 0 ? datum.label : ''", "tickSize": {"condition": {"test": "datum.value % 50 === 0", "value": -7}, "value": -4}, "labelPadding": 17, "titlePadding": -4}},
     "y": {"field": "lat", "type": "quantitative", "title": "Latitude", "scale": {"domain": [22.5, 37.5], "nice": false, "zero": false}, "axis": {"orient": "left", "values": [25,30,35], "tickSize": -12, "labelPadding": 23, "labelOffset": 12, "titlePadding": 9}},
     "detail": {"field": "g", "type": "nominal"}, "order": {"value": null}}},
   {"data": {"name": "a"}, "transform": [{"filter": "datum.s === 'CO2'"}], "mark": {"type": "line", "color": "black", "strokeWidth": 2},
    "encoding": {"x": {"field": "v", "type": "quantitative", "title": "CO₂\u00a0\u00a0(ppm)", "scale": {"domain": [364, 374], "nice": false, "zero": false}, "axis": {"orient": "top", "values": [364,366,368,370,372,374], "tickSize": -8, "labelPadding": 8, "titlePadding": -5}},
     "y": {"field": "lat", "type": "quantitative", "axis": {"orient": "left", "values": [23,24,26,27,28,29,31,32,33,34,36,37], "labels": false, "tickSize": -6, "title": null}},
     "detail": {"field": "g", "type": "nominal"}, "order": {"value": null}}},
   {"data": {"name": "aLab"}, "transform": [{"filter": "datum.p === 'main'"}], "mark": {"type": "text", "align": "left", "baseline": "alphabetic", "fontSize": 38},
    "encoding": {"x": {"field": "x", "type": "quantitative", "scale": {"domain": [0, 300], "nice": false, "zero": false}, "axis": null}, "y": {"field": "lat", "type": "quantitative", "axis": null}, "text": {"field": "t"}}},
   {"data": {"name": "aLab"}, "transform": [{"filter": "datum.p === 'sub'"}], "mark": {"type": "text", "align": "left", "baseline": "alphabetic", "fontSize": 28},
    "encoding": {"x": {"field": "x", "type": "quantitative", "scale": {"domain": [0, 300], "nice": false, "zero": false}, "axis": null}, "y": {"field": "lat", "type": "quantitative", "axis": null}, "text": {"field": "t"}}}
  ],
  "resolve": {"scale": {"x": "independent"}, "axis": {"x": "independent", "y": "independent"}}
 },
 {"width": 380, "height": 223.4,
  "title": {"text": "(b)", "anchor": "start", "frame": "group", "dx": -32, "dy": 40, "offset": 0},
  "layer": [
   {"data": {"name": "b"}, "transform": [{"filter": "datum.s === 'CO'"}], "mark": {"type": "line", "color": "#747474", "strokeWidth": 2},
    "encoding": {"x": {"field": "v", "type": "quantitative", "title": "CO (ppb)", "scale": {"domain": [0, 300], "nice": false, "zero": false}, "axis": {"orient": "bottom", "values": [0,10,20,30,40,50,60,70,80,90,100,110,120,130,140,150,160,170,180,190,200,210,220,230,240,250,260,270,280,290,300], "labelExpr": "datum.value % 50 === 0 ? datum.label : ''", "tickSize": {"condition": {"test": "datum.value % 50 === 0", "value": -7}, "value": -4}, "labelPadding": 17, "titlePadding": -4}},
     "y": {"field": "lat", "type": "quantitative", "title": "Latitude", "scale": {"domain": [22.5, 37.5], "nice": false, "zero": false}, "axis": {"orient": "left", "values": [25,30,35], "tickSize": -12, "labelPadding": 23, "labelOffset": 12, "titlePadding": 9}},
     "detail": {"field": "g", "type": "nominal"}, "order": {"value": null}}},
   {"data": {"name": "b"}, "transform": [{"filter": "datum.s === 'CO2'"}], "mark": {"type": "line", "color": "black", "strokeWidth": 2},
    "encoding": {"x": {"field": "v", "type": "quantitative", "title": "CO₂\u00a0\u00a0(ppm)", "scale": {"domain": [364, 374], "nice": false, "zero": false}, "axis": {"orient": "top", "values": [364,366,368,370,372,374], "tickSize": -8, "labelPadding": 8, "titlePadding": -5}},
     "y": {"field": "lat", "type": "quantitative", "axis": {"orient": "left", "values": [23,24,26,27,28,29,31,32,33,34,36,37], "labels": false, "tickSize": -6, "title": null}},
     "detail": {"field": "g", "type": "nominal"}, "order": {"value": null}}},
   {"data": {"name": "bLab"}, "transform": [{"filter": "datum.p === 'main'"}], "mark": {"type": "text", "align": "left", "baseline": "alphabetic", "fontSize": 38},
    "encoding": {"x": {"field": "x", "type": "quantitative", "scale": {"domain": [0, 300], "nice": false, "zero": false}, "axis": null}, "y": {"field": "lat", "type": "quantitative", "axis": null}, "text": {"field": "t"}}},
   {"data": {"name": "bLab"}, "transform": [{"filter": "datum.p === 'sub'"}], "mark": {"type": "text", "align": "left", "baseline": "alphabetic", "fontSize": 28},
    "encoding": {"x": {"field": "x", "type": "quantitative", "scale": {"domain": [0, 300], "nice": false, "zero": false}, "axis": null}, "y": {"field": "lat", "type": "quantitative", "axis": null}, "text": {"field": "t"}}}
  ],
  "resolve": {"scale": {"x": "independent"}, "axis": {"x": "independent", "y": "independent"}}
 },
 {"width": 380, "height": 461.5,
  "title": {"text": "(c)", "anchor": "start", "frame": "group", "dx": -32, "dy": 40, "offset": 0},
  "layer": [
   {"data": {"name": "c"}, "transform": [{"filter": "datum.s === 'CO'"}], "mark": {"type": "line", "color": "#747474", "strokeWidth": 2},
    "encoding": {"x": {"field": "v", "type": "quantitative", "title": "CO (ppb)", "scale": {"domain": [0, 300], "nice": false, "zero": false}, "axis": {"orient": "bottom", "values": [0,10,20,30,40,50,60,70,80,90,100,110,120,130,140,150,160,170,180,190,200,210,220,230,240,250,260,270,280,290,300], "labelExpr": "datum.value % 50 === 0 ? datum.label : ''", "tickSize": {"condition": {"test": "datum.value % 50 === 0", "value": -7}, "value": -4}, "labelPadding": 17, "titlePadding": -9}},
     "y": {"field": "lat", "type": "quantitative", "title": "Latitude", "scale": {"domain": [15, 45], "nice": false, "zero": false}, "axis": {"orient": "left", "values": [15,20,25,30,35,40,45], "tickSize": -12, "labelPadding": 23, "labelOffset": 10, "titlePadding": 9}},
     "detail": {"field": "g", "type": "nominal"}, "order": {"value": null}}},
   {"data": {"name": "c"}, "transform": [{"filter": "datum.s === 'CO2'"}], "mark": {"type": "line", "color": "black", "strokeWidth": 2},
    "encoding": {"x": {"field": "v", "type": "quantitative", "title": "CO₂\u00a0\u00a0(ppm)", "scale": {"domain": [364, 374], "nice": false, "zero": false}, "axis": {"orient": "top", "values": [364,366,368,370,372,374], "tickSize": -8, "labelPadding": 8, "titlePadding": -5}},
     "y": {"field": "lat", "type": "quantitative", "axis": {"orient": "left", "values": [16,17,18,19,21,22,23,24,26,27,28,29,31,32,33,34,36,37,38,39,41,42,43,44], "labels": false, "tickSize": -6, "title": null}},
     "detail": {"field": "g", "type": "nominal"}, "order": {"value": null}}},
   {"data": {"name": "cLab"}, "transform": [{"filter": "datum.p === 'main'"}], "mark": {"type": "text", "align": "left", "baseline": "alphabetic", "fontSize": 38},
    "encoding": {"x": {"field": "x", "type": "quantitative", "scale": {"domain": [0, 300], "nice": false, "zero": false}, "axis": null}, "y": {"field": "lat", "type": "quantitative", "axis": null}, "text": {"field": "t"}}},
   {"data": {"name": "cLab"}, "transform": [{"filter": "datum.p === 'sub'"}], "mark": {"type": "text", "align": "left", "baseline": "alphabetic", "fontSize": 28},
    "encoding": {"x": {"field": "x", "type": "quantitative", "scale": {"domain": [0, 300], "nice": false, "zero": false}, "axis": null}, "y": {"field": "lat", "type": "quantitative", "axis": null}, "text": {"field": "t"}}}
  ],
  "resolve": {"scale": {"x": "independent"}, "axis": {"x": "independent", "y": "independent"}}
 }
], "spacing": 163.3, "bounds": "flush"},
{"vconcat": [
 {"width": 302.3, "height": 229.3,
  "layer": [
   {"data": {"name": "ar"}, "transform": [{"filter": "datum.s === 'T'"}], "mark": {"type": "line", "color": "#b4b4b4", "strokeWidth": 2.5},
    "encoding": {"x": {"field": "v", "type": "quantitative", "title": "T & T\u00a0\u00a0\u00a0(degC)", "scale": {"domain": [-60, 0], "nice": false, "zero": false}, "axis": {"orient": "bottom", "values": [-60,-55,-50,-45,-40,-35,-30,-25,-20,-15,-10,-5,0], "labelExpr": "datum.value % 10 === 0 && datum.value > -60 ? '' + datum.value : ''", "tickSize": {"condition": {"test": "datum.value % 10 === 0", "value": -8}, "value": -4}, "labelPadding": 18, "titlePadding": -4}},
     "y": {"field": "lat", "type": "quantitative", "title": "Latitude", "scale": {"domain": [22.5, 37.5], "nice": false, "zero": false}, "axis": {"orient": "left", "values": [25,30,35], "tickSize": -12, "labelPadding": 18, "labelOffset": 12, "titlePadding": 14}},
     "detail": {"field": "g", "type": "nominal"}, "order": {"value": null}}},
   {"data": {"name": "ar"}, "transform": [{"filter": "datum.s === 'Td'"}], "mark": {"type": "line", "color": "#6e6e6e", "strokeWidth": 2},
    "encoding": {"x": {"field": "v", "type": "quantitative", "scale": {"domain": [-60, 0], "nice": false, "zero": false}, "axis": null},
     "y": {"field": "lat", "type": "quantitative", "axis": {"orient": "left", "values": [23,24,26,27,28,29,31,32,33,34,36,37], "labels": false, "tickSize": -6, "title": null}},
     "detail": {"field": "g", "type": "nominal"}, "order": {"value": null}}},
   {"data": {"name": "ar"}, "transform": [{"filter": "datum.s === 'RH'"}], "mark": {"type": "line", "color": "black", "strokeWidth": 2},
    "encoding": {"x": {"field": "v", "type": "quantitative", "title": "Relative Humidity (%)", "scale": {"domain": [0, 120], "nice": false, "zero": false}, "axis": {"orient": "top", "values": [0,20,40,60,80,100,120], "tickSize": -8, "labelPadding": 8, "titlePadding": -5}},
     "y": {"field": "lat", "type": "quantitative", "axis": null},
     "detail": {"field": "g", "type": "nominal"}, "order": {"value": null}}},
   {"data": {"name": "arLab"}, "transform": [{"filter": "datum.p === 'main'"}], "mark": {"type": "text", "align": "left", "baseline": "alphabetic", "fontSize": 38},
    "encoding": {"x": {"field": "x", "type": "quantitative", "scale": {"domain": [-60, 0], "nice": false, "zero": false}, "axis": null}, "y": {"field": "lat", "type": "quantitative", "axis": null}, "text": {"field": "t"}}},
   {"data": {"name": "arLab"}, "transform": [{"filter": "datum.p === 'sub'"}], "mark": {"type": "text", "align": "left", "baseline": "alphabetic", "fontSize": 28},
    "encoding": {"x": {"field": "x", "type": "quantitative", "scale": {"domain": [-60, 0], "nice": false, "zero": false}, "axis": null}, "y": {"field": "lat", "type": "quantitative", "axis": null}, "text": {"field": "t"}}}
  ],
  "resolve": {"scale": {"x": "independent"}, "axis": {"x": "independent", "y": "independent"}}
 },
 {"width": 302.3, "height": 223.4,
  "layer": [
   {"data": {"name": "br"}, "transform": [{"filter": "datum.s === 'T'"}], "mark": {"type": "line", "color": "#b4b4b4", "strokeWidth": 2.5},
    "encoding": {"x": {"field": "v", "type": "quantitative", "title": "T & T\u00a0\u00a0\u00a0(degC)", "scale": {"domain": [-60, 0], "nice": false, "zero": false}, "axis": {"orient": "bottom", "values": [-60,-55,-50,-45,-40,-35,-30,-25,-20,-15,-10,-5,0], "labelExpr": "datum.value % 10 === 0 && datum.value > -60 ? '' + datum.value : ''", "tickSize": {"condition": {"test": "datum.value % 10 === 0", "value": -8}, "value": -4}, "labelPadding": 18, "titlePadding": -4}},
     "y": {"field": "lat", "type": "quantitative", "title": "Latitude", "scale": {"domain": [22.5, 37.5], "nice": false, "zero": false}, "axis": {"orient": "left", "values": [25,30,35], "tickSize": -12, "labelPadding": 18, "labelOffset": 12, "titlePadding": 14}},
     "detail": {"field": "g", "type": "nominal"}, "order": {"value": null}}},
   {"data": {"name": "br"}, "transform": [{"filter": "datum.s === 'Td'"}], "mark": {"type": "line", "color": "#6e6e6e", "strokeWidth": 2},
    "encoding": {"x": {"field": "v", "type": "quantitative", "scale": {"domain": [-60, 0], "nice": false, "zero": false}, "axis": null},
     "y": {"field": "lat", "type": "quantitative", "axis": {"orient": "left", "values": [23,24,26,27,28,29,31,32,33,34,36,37], "labels": false, "tickSize": -6, "title": null}},
     "detail": {"field": "g", "type": "nominal"}, "order": {"value": null}}},
   {"data": {"name": "br"}, "transform": [{"filter": "datum.s === 'RH'"}], "mark": {"type": "line", "color": "black", "strokeWidth": 2},
    "encoding": {"x": {"field": "v", "type": "quantitative", "title": "Relative Humidity (%)", "scale": {"domain": [0, 120], "nice": false, "zero": false}, "axis": {"orient": "top", "values": [0,20,40,60,80,100,120], "tickSize": -8, "labelPadding": 8, "titlePadding": -5}},
     "y": {"field": "lat", "type": "quantitative", "axis": null},
     "detail": {"field": "g", "type": "nominal"}, "order": {"value": null}}},
   {"data": {"name": "brLab"}, "transform": [{"filter": "datum.p === 'main'"}], "mark": {"type": "text", "align": "left", "baseline": "alphabetic", "fontSize": 38},
    "encoding": {"x": {"field": "x", "type": "quantitative", "scale": {"domain": [-60, 0], "nice": false, "zero": false}, "axis": null}, "y": {"field": "lat", "type": "quantitative", "axis": null}, "text": {"field": "t"}}},
   {"data": {"name": "brLab"}, "transform": [{"filter": "datum.p === 'sub'"}], "mark": {"type": "text", "align": "left", "baseline": "alphabetic", "fontSize": 28},
    "encoding": {"x": {"field": "x", "type": "quantitative", "scale": {"domain": [-60, 0], "nice": false, "zero": false}, "axis": null}, "y": {"field": "lat", "type": "quantitative", "axis": null}, "text": {"field": "t"}}}
  ],
  "resolve": {"scale": {"x": "independent"}, "axis": {"x": "independent", "y": "independent"}}
 },
 {"width": 302.3, "height": 461.5,
  "layer": [
   {"data": {"name": "cr"}, "transform": [{"filter": "datum.s === 'T'"}], "mark": {"type": "line", "color": "#b4b4b4", "strokeWidth": 2.5},
    "encoding": {"x": {"field": "v", "type": "quantitative", "title": "T & T\u00a0\u00a0\u00a0(degC)", "scale": {"domain": [-60, 0], "nice": false, "zero": false}, "axis": {"orient": "bottom", "values": [-60,-55,-50,-45,-40,-35,-30,-25,-20,-15,-10,-5,0], "labelExpr": "datum.value % 10 === 0 && datum.value > -60 ? '' + datum.value : ''", "tickSize": {"condition": {"test": "datum.value % 10 === 0", "value": -8}, "value": -4}, "labelPadding": 18, "titlePadding": -9}},
     "y": {"field": "lat", "type": "quantitative", "title": "Latitude", "scale": {"domain": [15, 45], "nice": false, "zero": false}, "axis": {"orient": "left", "values": [15,20,25,30,35,40,45], "tickSize": -12, "labelPadding": 18, "labelOffset": 10, "titlePadding": 14}},
     "detail": {"field": "g", "type": "nominal"}, "order": {"value": null}}},
   {"data": {"name": "cr"}, "transform": [{"filter": "datum.s === 'Td'"}], "mark": {"type": "line", "color": "#6e6e6e", "strokeWidth": 2},
    "encoding": {"x": {"field": "v", "type": "quantitative", "scale": {"domain": [-60, 0], "nice": false, "zero": false}, "axis": null},
     "y": {"field": "lat", "type": "quantitative", "axis": {"orient": "left", "values": [16,17,18,19,21,22,23,24,26,27,28,29,31,32,33,34,36,37,38,39,41,42,43,44], "labels": false, "tickSize": -6, "title": null}},
     "detail": {"field": "g", "type": "nominal"}, "order": {"value": null}}},
   {"data": {"name": "cr"}, "transform": [{"filter": "datum.s === 'RH'"}], "mark": {"type": "line", "color": "black", "strokeWidth": 2},
    "encoding": {"x": {"field": "v", "type": "quantitative", "title": "Relative Humidity (%)", "scale": {"domain": [0, 120], "nice": false, "zero": false}, "axis": {"orient": "top", "values": [0,20,40,60,80,100,120], "tickSize": -8, "labelPadding": 8, "titlePadding": -5}},
     "y": {"field": "lat", "type": "quantitative", "axis": null},
     "detail": {"field": "g", "type": "nominal"}, "order": {"value": null}}},
   {"data": {"name": "crLab"}, "transform": [{"filter": "datum.p === 'main'"}], "mark": {"type": "text", "align": "left", "baseline": "alphabetic", "fontSize": 38},
    "encoding": {"x": {"field": "x", "type": "quantitative", "scale": {"domain": [-60, 0], "nice": false, "zero": false}, "axis": null}, "y": {"field": "lat", "type": "quantitative", "axis": null}, "text": {"field": "t"}}},
   {"data": {"name": "crLab"}, "transform": [{"filter": "datum.p === 'sub'"}], "mark": {"type": "text", "align": "left", "baseline": "alphabetic", "fontSize": 28},
    "encoding": {"x": {"field": "x", "type": "quantitative", "scale": {"domain": [-60, 0], "nice": false, "zero": false}, "axis": null}, "y": {"field": "lat", "type": "quantitative", "axis": null}, "text": {"field": "t"}}}
  ],
  "resolve": {"scale": {"x": "independent"}, "axis": {"x": "independent", "y": "independent"}}
 }
], "spacing": 163.3, "bounds": "flush"}
],
"spacing": 502.7,
"bounds": "flush"
}
